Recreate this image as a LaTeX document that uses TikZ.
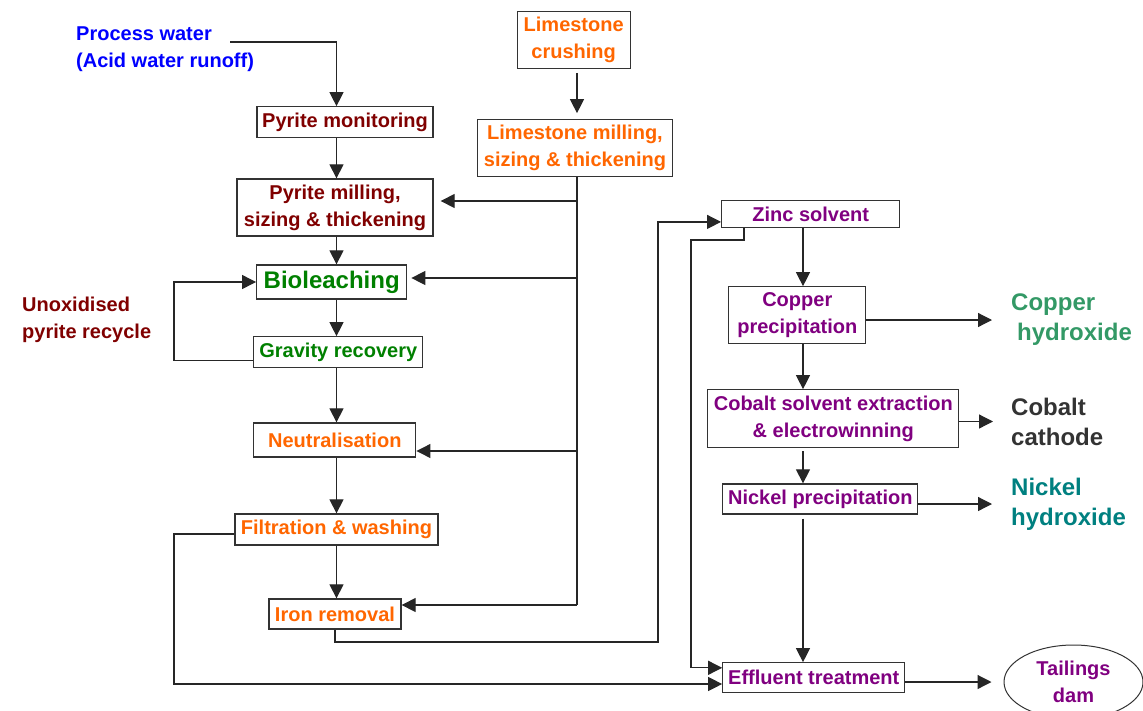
\documentclass[tikz,border=0pt]{standalone}
\usepackage{fontspec}
\setmainfont{Liberation Sans}
\usepackage{tikz}
\usetikzlibrary{arrows.meta, shapes.geometric}

\definecolor{waterblue}{HTML}{0000FF}
\definecolor{pyritered}{HTML}{800000}
\definecolor{limeorange}{HTML}{FF6600}
\definecolor{leachgreen}{HTML}{008000}
\definecolor{metalpurple}{HTML}{800080}
\definecolor{coppergreen}{HTML}{339966}
\definecolor{cobaltgrey}{HTML}{333333}
\definecolor{nickelteal}{HTML}{008080}

\begin{document}
\begin{tikzpicture}[
            x=1pt, y=-1pt,
            every node/.style={font=\bfseries\fontsize{20}{27}\selectfont},
            % box styles
            process/.style={rectangle, draw=black!80, line width=1.3pt, fill=white, inner sep=0pt, align=center},
            plaintext/.style={anchor=west, align=left, inner sep=0pt},
            product/.style={anchor=west, align=left, inner sep=0pt, font=\bfseries\fontsize{24}{30}\selectfont},
            arrow/.style={line width=1.2pt, draw=black!85, -{Triangle[length=14pt, width=14pt]}},
            pipe/.style={line width=1.2pt, draw=black!85}
        ]
            \useasboundingbox (0,0) rectangle (1143,710);

            % Feed labels
            \node (water) [plaintext, text=waterblue] at (76,49.5) {Process water\\(Acid water runoff)};
            \node (recycle) [plaintext, text=pyritered] at (22,320) {Unoxidised\\pyrite recycle};

            % Pyrite line (left column)
            \node (mon) [process, minimum width=176pt, minimum height=31pt, text=pyritered] at (345,122.3) {Pyrite monitoring};
            \node (pmill) [process, minimum width=196pt, minimum height=57pt, text=pyritered] at (335,207.5) {Pyrite milling,\\sizing \& thickening};
            \node (bio) [process, minimum width=150pt, minimum height=34pt, text=leachgreen, font=\bfseries\fontsize{24}{28}\selectfont] at (331.7,282) {Bioleaching};
            \node (grav) [process, minimum width=169pt, minimum height=31pt, text=leachgreen] at (338.3,352.3) {Gravity recovery};
            \node (neut) [process, minimum width=162pt, minimum height=34pt, text=limeorange] at (334.8,440) {Neutralisation};
            \node (filt) [process, minimum width=203pt, minimum height=31pt, text=limeorange] at (336.5,529.5) {Filtration \& washing};
            \node (iron) [process, minimum width=132pt, minimum height=30pt, text=limeorange] at (335,614) {Iron removal};

            % Limestone line
            \node (lcrush) [process, minimum width=113pt, minimum height=57pt, text=limeorange] at (573.7,39.7) {Limestone\\crushing};
            \node (lmill) [process, minimum width=195pt, minimum height=57pt, text=limeorange] at (575,148.3) {Limestone milling,\\sizing \& thickening};

            % Metal recovery (right column)
            \node (zinc) [process, minimum width=178pt, minimum height=26.5pt, text=metalpurple] at (810.7,213.9) {Zinc solvent};
            \node (copper) [process, minimum width=137pt, minimum height=57pt, text=metalpurple] at (797.3,315.3) {Copper\\precipitation};
            \node (cobalt) [process, minimum width=251pt, minimum height=58pt, text=metalpurple] at (833.3,418.8) {Cobalt solvent extraction\\\& electrowinning};
            \node (nickel) [process, minimum width=195pt, minimum height=30pt, text=metalpurple] at (820.3,499) {Nickel precipitation};
            \node (eff) [process, minimum width=182pt, minimum height=30pt, text=metalpurple] at (813.8,677.8) {Effluent treatment};

            % Products
            \node (cuhyd) [product, text=coppergreen] at (1011,320) {Copper\\\hspace*{6pt}hydroxide};
            \node (cocath) [product, text=cobaltgrey] at (1011,421.5) {Cobalt\\cathode};
            \node (nihyd) [product, text=nickelteal] at (1011,504) {Nickel\\hydroxide};
            \node (tail) [ellipse, draw=black!80, line width=1pt, inner sep=0pt, minimum width=139pt, minimum height=74pt, align=center, text=metalpurple] at (1073.5,682) {Tailings\\dam};

            % Helper points
            \coordinate (lspine) at (336.5,0);
            \coordinate (rspine) at (803,0);
            \coordinate (pwout) at (230,42);
            \coordinate (recyc) at (174,320);
            \coordinate (lowleft) at (174,684);
            \coordinate (ironturn) at (658,642);
            \coordinate (zincdrop) at (744,240);
            \coordinate (zincturn) at (691,240);
            \coordinate (trunk) at (577,605);
            \coordinate (lsbr1) at (577,201);
            \coordinate (lsbr2) at (577,278);
            \coordinate (lsbr3) at (577,451);

            % Pyrite line connections
            \draw [arrow] (pwout) -| (mon.north -| lspine);
            \draw [arrow] (mon.south -| lspine) -- (pmill.north -| lspine);
            \draw [arrow] (pmill.south -| lspine) -- (bio.north -| lspine);
            \draw [arrow] (bio.south -| lspine) -- (grav.north -| lspine);
            \draw [arrow] (grav.south -| lspine) -- (neut.north -| lspine);
            \draw [arrow] (neut.south -| lspine) -- (filt.north -| lspine);
            \draw [arrow] (filt.south -| lspine) -- (iron.north -| lspine);

            % Recycle loop back to bioleaching
            \draw [arrow] ([yshift=-8pt]grav.west) -| (recyc) |- (bio.west);

            % Limestone feed
            \draw [arrow, shorten <=4pt, shorten >=6pt] (lcrush.south -| trunk) -- (lmill.north -| trunk);
            \draw [pipe] (lmill.south -| trunk) -- (trunk);
            \draw [arrow, shorten >=7pt] (lsbr1) -- (pmill.east |- lsbr1);
            \draw [arrow, shorten >=4pt] (lsbr2) -- (bio.east |- lsbr2);
            \draw [arrow] (lsbr3) -- (neut.east |- lsbr3);
            \draw [arrow] (trunk) -- (iron.east |- trunk);

            % Solution to zinc circuit, residues to effluent
            \draw [arrow] (iron.south) |- (ironturn) |- ([yshift=-8pt]zinc.west);
            \draw [arrow] ([yshift=-4.5pt]filt.west) -| (lowleft) -- (eff.west |- lowleft);
            \draw [arrow] (zinc.south -| zincdrop) -- (zincdrop) -- (zincturn) |- ([yshift=10pt]eff.west);

            % Metal recovery chain
            \draw [arrow] (zinc.south -| rspine) -- (copper.north -| rspine);
            \draw [arrow] (copper.south -| rspine) -- (cobalt.north -| rspine);
            \draw [arrow, shorten <=3pt] (cobalt.south -| rspine) -- (nickel.north -| rspine);
            \draw [arrow, shorten <=4pt] (nickel.south -| rspine) -- (eff.north -| rspine);

            % Products out
            \draw [arrow, shorten >=19pt] (copper.east |- cuhyd.west) -- (cuhyd.west);
            \draw [arrow, shorten >=18pt] (cobalt.east |- cocath.west) -- (cocath.west);
            \draw [arrow, shorten >=19pt] (nickel.east |- nihyd.west) -- (nihyd.west);
            \draw [arrow, shorten >=12pt] (eff.east |- tail.west) -- (tail.west);

        \end{tikzpicture}
\end{document}
